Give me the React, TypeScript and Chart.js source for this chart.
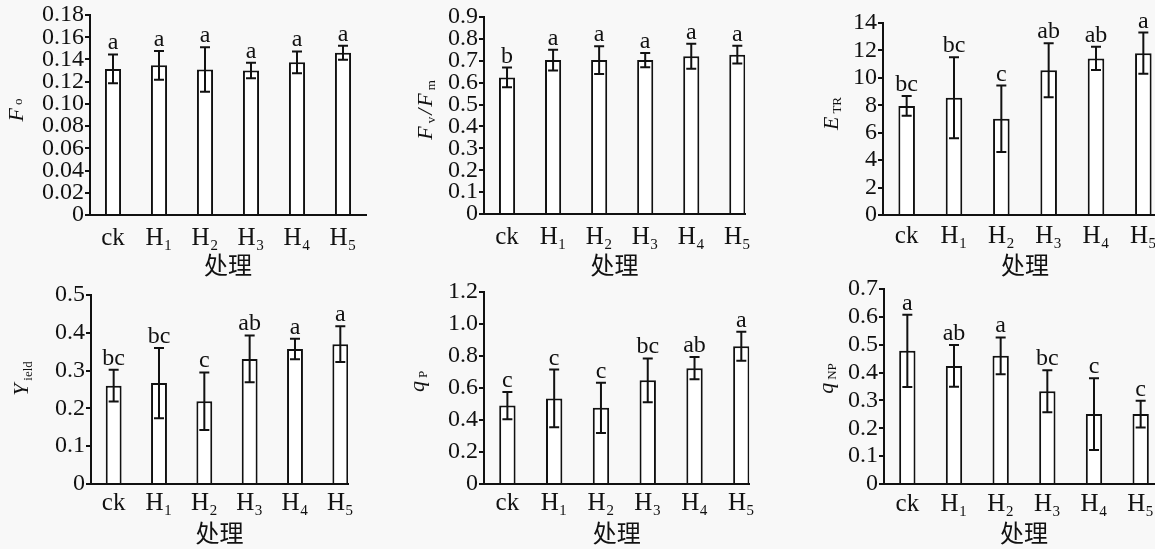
import React, { useEffect, useRef } from "react";
import { Chart, registerables } from "chart.js";

Chart.register(...registerables);

const categories = ["ck", "H₁", "H₂", "H₃", "H₄", "H₅"];

// F_o
const foMeans = [0.1315, 0.1347, 0.131, 0.13, 0.1374, 0.1461];
const foErrors = [0.013, 0.013, 0.02, 0.007, 0.0098, 0.0063];
const foLetters = ["a", "a", "a", "a", "a", "a"];
const foTicks = [0, 0.02, 0.04, 0.06, 0.08, 0.1, 0.12, 0.14, 0.16, 0.18];
const foTickLabels = ["0", "0.02", "0.04", "0.06", "0.08", "0.10", "0.12", "0.14", "0.16", "0.18"];

// F_v/F_m
const fvfmMeans = [0.624, 0.703, 0.703, 0.703, 0.721, 0.728];
const fvfmErrors = [0.045, 0.047, 0.063, 0.033, 0.057, 0.041];
const fvfmLetters = ["b", "a", "a", "a", "a", "a"];
const fvfmTicks = [0, 0.1, 0.2, 0.3, 0.4, 0.5, 0.6, 0.7, 0.8, 0.9];
const fvfmTickLabels = ["0", "0.1", "0.2", "0.3", "0.4", "0.5", "0.6", "0.7", "0.8", "0.9"];

// E_TR
const etrMeans = [7.95, 8.55, 7.02, 10.55, 11.42, 11.8];
const etrErrors = [0.72, 2.95, 2.42, 1.97, 0.85, 1.5];
const etrLetters = ["bc", "bc", "c", "ab", "ab", "a"];
const etrTicks = [0, 2, 4, 6, 8, 10, 12, 14];
const etrTickLabels = ["0", "2", "4", "6", "8", "10", "12", "14"];

// Y_ield
const yieldMeans = [0.26, 0.267, 0.219, 0.331, 0.357, 0.37];
const yieldErrors = [0.042, 0.093, 0.076, 0.062, 0.027, 0.047];
const yieldLetters = ["bc", "bc", "c", "ab", "a", "a"];
const yieldTicks = [0, 0.1, 0.2, 0.3, 0.4, 0.5];
const yieldTickLabels = ["0", "0.1", "0.2", "0.3", "0.4", "0.5"];

// q_P
const qpMeans = [0.49, 0.535, 0.476, 0.648, 0.724, 0.861];
const qpErrors = [0.085, 0.18, 0.157, 0.137, 0.07, 0.09];
const qpLetters = ["c", "c", "c", "bc", "ab", "a"];
const qpTicks = [0, 0.2, 0.4, 0.6, 0.8, 1.0, 1.2];
const qpTickLabels = ["0", "0.2", "0.4", "0.6", "0.8", "1.0", "1.2"];

// q_NP
const qnpMeans = [0.478, 0.424, 0.46, 0.333, 0.251, 0.251];
const qnpErrors = [0.13, 0.075, 0.066, 0.075, 0.129, 0.048];
const qnpLetters = ["a", "ab", "a", "bc", "c", "c"];
const qnpTicks = [0, 0.1, 0.2, 0.3, 0.4, 0.5, 0.6, 0.7];
const qnpTickLabels = ["0", "0.1", "0.2", "0.3", "0.4", "0.5", "0.6", "0.7"];

const xTitle = "处理";

const INK = "#111111";
const SERIF = '"Liberation Serif", "DejaVu Serif", serif';
const CJK = '"Noto Sans CJK SC", sans-serif';

type Seg = { text: string; italic?: boolean; sub?: boolean; dy?: number; gap?: number };

type PanelCfg = {
  means: number[];
  errors: number[];
  letters: string[];
  ticks: number[];
  tickLabels: string[];
  yMax: number;
  title: Seg[];
  colLeft: number;
  canvasTop: number;
  canvasH: number;
  axisX: number;
  plotTop: number;
  plotBottom: number;
  spacing: number;
  xMax: number;
  tickD: number;
  titleBaseX: number;
  titleCY: number;
  titlePad: number;
};

const panels: PanelCfg[] = [
  {
    means: foMeans, errors: foErrors, letters: foLetters, ticks: foTicks, tickLabels: foTickLabels, yMax: 0.18,
    title: [{ text: "F", italic: true }, { text: "o", sub: true, dy: -1, gap: 3 }],
    colLeft: 0, canvasTop: 0, canvasH: 285, axisX: 90, plotTop: 15, plotBottom: 215, spacing: 46, xMax: 5.5,
    tickD: 23, titleBaseX: 22.5, titleCY: 110, titlePad: 8,
  },
  {
    means: fvfmMeans, errors: fvfmErrors, letters: fvfmLetters, ticks: fvfmTicks, tickLabels: fvfmTickLabels, yMax: 0.9,
    title: [
      { text: "F", italic: true },
      { text: "v", sub: true, dy: 3, gap: 3 },
      { text: "/", italic: true, gap: 2 },
      { text: "F", italic: true, gap: 2 },
      { text: "m", sub: true, dy: 3, gap: 3 },
    ],
    colLeft: 385, canvasTop: 0, canvasH: 285, axisX: 484, plotTop: 17, plotBottom: 214, spacing: 47.3, xMax: 5.17,
    tickD: 23.5, titleBaseX: 431.5, titleCY: 110, titlePad: 8,
  },
  {
    means: etrMeans, errors: etrErrors, letters: etrLetters, ticks: etrTicks, tickLabels: etrTickLabels, yMax: 14,
    title: [{ text: "E", italic: true }, { text: "TR", sub: true, dy: 3, gap: 3 }],
    colLeft: 765, canvasTop: 0, canvasH: 285, axisX: 883, plotTop: 23, plotBottom: 215, spacing: 47.3, xMax: 5.5,
    tickD: 21, titleBaseX: 838, titleCY: 113.5, titlePad: 8,
  },
  {
    means: yieldMeans, errors: yieldErrors, letters: yieldLetters, ticks: yieldTicks, tickLabels: yieldTickLabels, yMax: 0.5,
    title: [{ text: "Y", italic: true }, { text: "ield", sub: true, dy: 4, gap: 3 }],
    colLeft: 0, canvasTop: 275, canvasH: 274, axisX: 91, plotTop: 295, plotBottom: 484, spacing: 45.9, xMax: 5.17,
    tickD: 19.5, titleBaseX: 28, titleCY: 378.5, titlePad: 4.5,
  },
  {
    means: qpMeans, errors: qpErrors, letters: qpLetters, ticks: qpTicks, tickLabels: qpTickLabels, yMax: 1.2,
    title: [{ text: "q", italic: true }, { text: "P", sub: true, dy: 3, gap: 3 }],
    colLeft: 385, canvasTop: 275, canvasH: 274, axisX: 484, plotTop: 292, plotBottom: 484, spacing: 47.3, xMax: 5.17,
    tickD: 19.5, titleBaseX: 424, titleCY: 381.5, titlePad: 4.5,
  },
  {
    means: qnpMeans, errors: qnpErrors, letters: qnpLetters, ticks: qnpTicks, tickLabels: qnpTickLabels, yMax: 0.7,
    title: [{ text: "q", italic: true }, { text: "NP", sub: true, dy: 3, gap: 3 }],
    colLeft: 765, canvasTop: 275, canvasH: 274, axisX: 884, plotTop: 289, plotBottom: 484, spacing: 46.7, xMax: 5.5,
    tickD: 20, titleBaseX: 833, titleCY: 378.5, titlePad: 4.5,
  },
];

const PAD_RIGHT = 10;

function canvasWidth(p: PanelCfg) {
  return Math.round(p.axisX - p.colLeft + (p.xMax + 0.5) * p.spacing + PAD_RIGHT);
}

function Panel({ p }: { p: PanelCfg }) {
  const ref = useRef<HTMLCanvasElement | null>(null);
  const W = canvasWidth(p);

  useEffect(() => {
    if (!ref.current) return;
    const overlay = {
      id: "overlay",
      afterDatasetsDraw(chart: any) {
        const { ctx, scales } = chart;
        const x = scales.x;
        const y = scales.y;
        ctx.save();
        ctx.strokeStyle = INK;
        ctx.fillStyle = INK;
        ctx.lineWidth = 2;
        p.means.forEach((m, i) => {
          const px = x.getPixelForValue(i);
          const top = y.getPixelForValue(m + p.errors[i]);
          const bot = y.getPixelForValue(m - p.errors[i]);
          ctx.beginPath();
          ctx.moveTo(px, top);
          ctx.lineTo(px, bot);
          ctx.moveTo(px - 5, top);
          ctx.lineTo(px + 5, top);
          ctx.moveTo(px - 5, bot);
          ctx.lineTo(px + 5, bot);
          ctx.stroke();
          ctx.font = `24px ${SERIF}`;
          ctx.textAlign = "center";
          ctx.textBaseline = "alphabetic";
          ctx.fillText(p.letters[i], px, top - 5);
        });
        ctx.restore();

        // rotated y-axis title with subscripts
        ctx.save();
        ctx.fillStyle = INK;
        ctx.translate(p.titleBaseX - p.colLeft, p.titleCY - p.canvasTop);
        ctx.rotate(-Math.PI / 2);
        ctx.textAlign = "left";
        ctx.textBaseline = "alphabetic";
        const fontFor = (s: Seg) =>
          s.sub ? `13px ${SERIF}` : s.italic ? `italic 22px ${SERIF}` : `22px ${SERIF}`;
        const widths = p.title.map((s) => {
          ctx.font = fontFor(s);
          return ctx.measureText(s.text).width;
        });
        const total = widths.reduce((a, b) => a + b, 0) + p.title.reduce((a, s) => a + (s.gap || 0), 0);
        let cx = -total / 2;
        p.title.forEach((s, i) => {
          cx += s.gap || 0;
          ctx.font = fontFor(s);
          ctx.fillText(s.text, cx, s.sub ? s.dy || 0 : 0);
          cx += widths[i];
        });
        ctx.restore();
      },
    };

    const chart = new Chart(ref.current, {
      type: "bar",
      data: {
        datasets: [
          {
            data: p.means.map((m, i) => ({ x: i, y: m })),
            backgroundColor: "#ffffff",
            borderColor: INK,
            borderWidth: 2,
            barPercentage: 0.35,
            categoryPercentage: 1,
          } as any,
        ],
      },
      options: {
        responsive: false,
        animation: false,
        events: [],
        layout: { padding: { left: 0, right: PAD_RIGHT, top: p.plotTop - p.canvasTop, bottom: 0 } },
        plugins: {
          legend: { display: false },
          tooltip: { enabled: false },
          title: { display: false },
        },
        scales: {
          x: {
            type: "linear",
            offset: false,
            bounds: "data",
            min: -0.5,
            max: p.xMax,
            afterBuildTicks: (s: any) => {
              s.ticks = categories.map((_, i) => ({ value: i }));
            },
            afterFit: (s: any) => {
              s.height = p.canvasTop + p.canvasH - p.plotBottom;
            },
            ticks: {
              callback: (v: any) => categories[Math.round(Number(v))] ?? "",
              font: { family: SERIF, size: 25, lineHeight: 1 },
              color: INK,
              padding: p.tickD - 12.5,
              maxRotation: 0,
              autoSkip: false,
            },
            grid: { display: false, drawTicks: false, offset: false },
            border: { display: true, color: INK, width: 2 },
            title: {
              display: true,
              text: xTitle,
              font: { family: CJK, size: 24, lineHeight: 1 },
              color: INK,
              padding: { top: 0, bottom: p.titlePad },
            },
          },
          y: {
            type: "linear",
            bounds: "data",
            min: 0,
            max: p.yMax,
            afterBuildTicks: (s: any) => {
              s.ticks = p.ticks.map((v) => ({ value: v }));
            },
            afterFit: (s: any) => {
              s.width = p.axisX - p.colLeft;
            },
            ticks: {
              callback: (_v: any, i: number) => p.tickLabels[i],
              font: { family: SERIF, size: 24, lineHeight: 1 },
              color: INK,
              padding: 1,
              autoSkip: false,
            },
            grid: { drawOnChartArea: false, drawTicks: true, tickLength: 5, color: INK, lineWidth: 2 },
            border: { display: true, color: INK, width: 2 },
          },
        },
      } as any,
      plugins: [overlay],
    });
    return () => chart.destroy();
  }, []);

  return (
    <canvas
      ref={ref}
      width={W}
      height={p.canvasH}
      style={{ position: "absolute", left: p.colLeft, top: p.canvasTop, width: W, height: p.canvasH }}
    />
  );
}

export default function App() {
  return (
    <div
      style={{
        position: "absolute",
        left: 0,
        top: 0,
        width: 1155,
        height: 549,
        overflow: "hidden",
        background: "#f8f8f8",
      }}
    >
      {panels.map((p, i) => (
        <Panel key={i} p={p} />
      ))}
    </div>
  );
}
